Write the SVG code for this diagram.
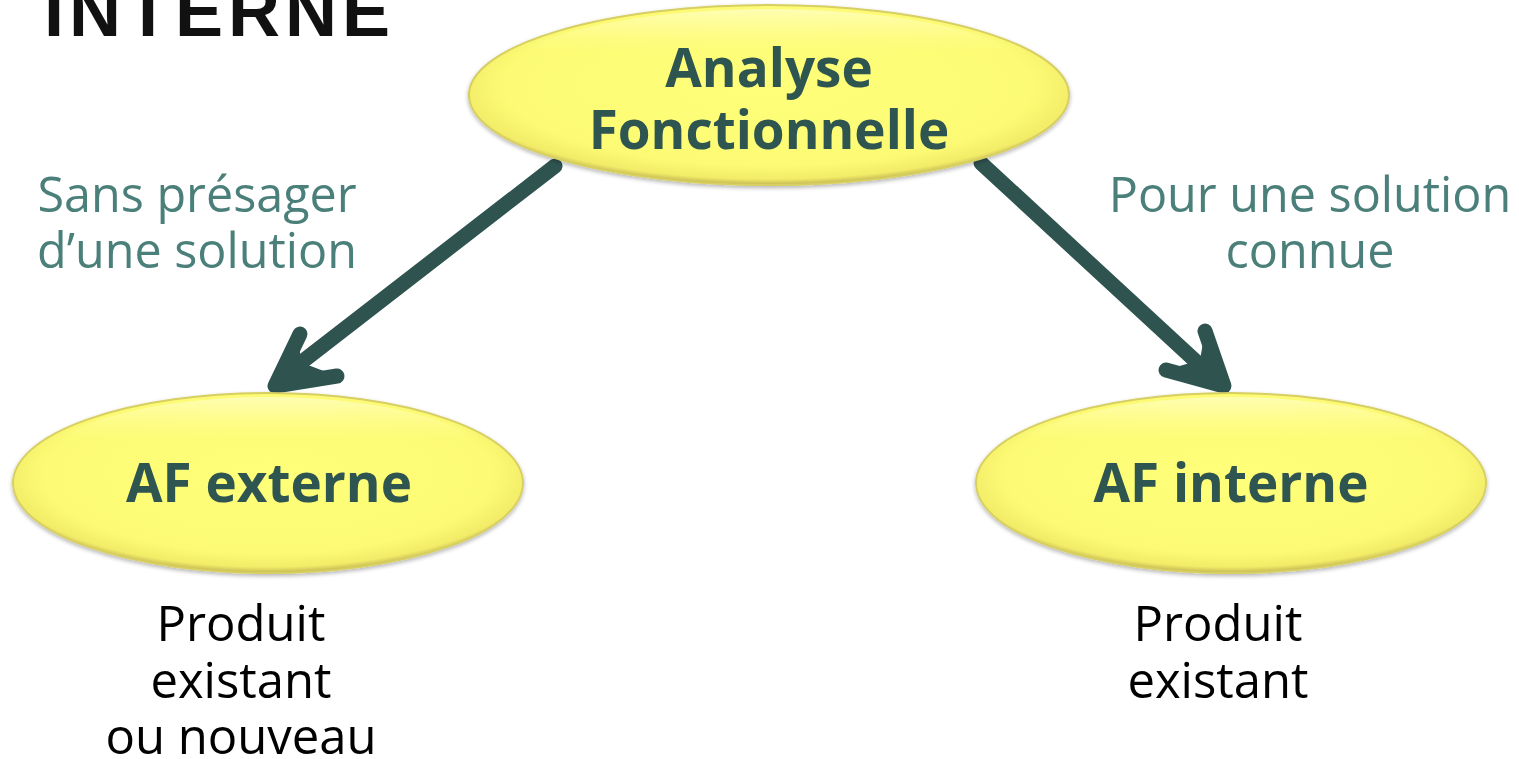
<svg xmlns="http://www.w3.org/2000/svg" width="1519" height="759" viewBox="0 0 1519 759">
<defs>
<radialGradient id="yel" cx="0.5" cy="0.45" r="0.55">
<stop offset="0" stop-color="#FFFF7A"/>
<stop offset="0.8" stop-color="#FDFB74"/>
<stop offset="0.94" stop-color="#F2EC68"/>
<stop offset="1" stop-color="#C2B752"/>
</radialGradient>
<linearGradient id="hl" x1="0" y1="0" x2="0" y2="1">
<stop offset="0" stop-color="#FFFFD0" stop-opacity="0.7"/>
<stop offset="0.25" stop-color="#FFFFA0" stop-opacity="0"/>
<stop offset="1" stop-color="#FFFFA0" stop-opacity="0"/>
</linearGradient>
<filter id="sh" x="-10%" y="-10%" width="120%" height="130%">
<feGaussianBlur in="SourceAlpha" stdDeviation="2"/>
<feOffset dx="0" dy="2"/>
<feComponentTransfer><feFuncA type="linear" slope="0.3"/></feComponentTransfer>
<feMerge><feMergeNode/><feMergeNode in="SourceGraphic"/></feMerge>
</filter>
</defs>
<style>
.node{fill:url(#yel);stroke:#D7CF62;stroke-width:2}
.hl{fill:url(#hl)}
.nt{font-family:"Open Sans","Noto Sans","Liberation Sans",sans-serif;font-weight:bold;font-size:53px;fill:#2F5450;text-anchor:middle}
.lab{font-family:"Open Sans","Noto Sans","Liberation Sans",sans-serif;font-size:48.5px;fill:#4A7F7A;text-anchor:middle}
.sub{font-family:"Open Sans","Noto Sans","Liberation Sans",sans-serif;font-size:49px;fill:#000;text-anchor:middle}
.title{font-family:"Liberation Sans",Arial,sans-serif;font-weight:bold;font-size:72px;fill:#111;letter-spacing:5px}
.conn{fill:none;stroke:#2F5450;stroke-width:15;stroke-linecap:round;stroke-linejoin:round}
.head{fill:#2F5450}
</style>
<text class="title" x="44" y="36">INTERNE</text>
<g id="connectors">
<path class="conn" d="M555,166 L285,375"/>
<path class="conn" d="M300,334 L275,386 L337,376"/>
<polygon class="head" points="300,334 270,391 337,376 300,362"/>
<path class="conn" d="M981,163 L1215,379"/>
<path class="conn" d="M1205,331 L1224,386 L1166,370"/>
<polygon class="head" points="1205,331 1229,390 1166,370 1200,360"/>
</g>
<g id="labels">
<text class="lab" x="197" y="212">Sans présager</text>
<text class="lab" x="197" y="268">d’une solution</text>
<text class="lab" x="1310" y="212">Pour une solution</text>
<text class="lab" x="1310" y="268">connue</text>
</g>
<g id="analyse" filter="url(#sh)">
<ellipse class="node" cx="769" cy="95" rx="300" ry="90"/>
<ellipse class="hl" cx="769" cy="95" rx="294" ry="86"/>
<text class="nt" x="769" y="87">Analyse</text>
<text class="nt" x="769" y="149">Fonctionnelle</text>
</g>
<g id="af-externe" filter="url(#sh)">
<ellipse class="node" cx="268" cy="483" rx="255" ry="90"/>
<ellipse class="hl" cx="268" cy="483" rx="249" ry="86"/>
<text class="nt" x="269" y="502">AF externe</text>
</g>
<g id="af-interne" filter="url(#sh)">
<ellipse class="node" cx="1231" cy="483" rx="255" ry="90"/>
<ellipse class="hl" cx="1231" cy="483" rx="249" ry="86"/>
<text class="nt" x="1231" y="502">AF interne</text>
</g>
<g id="notes">
<text class="sub" x="241" y="641">Produit</text>
<text class="sub" x="241" y="698">existant</text>
<text class="sub" x="241" y="754">ou nouveau</text>
<text class="sub" x="1218" y="641">Produit</text>
<text class="sub" x="1218" y="698">existant</text>
</g>
</svg>
